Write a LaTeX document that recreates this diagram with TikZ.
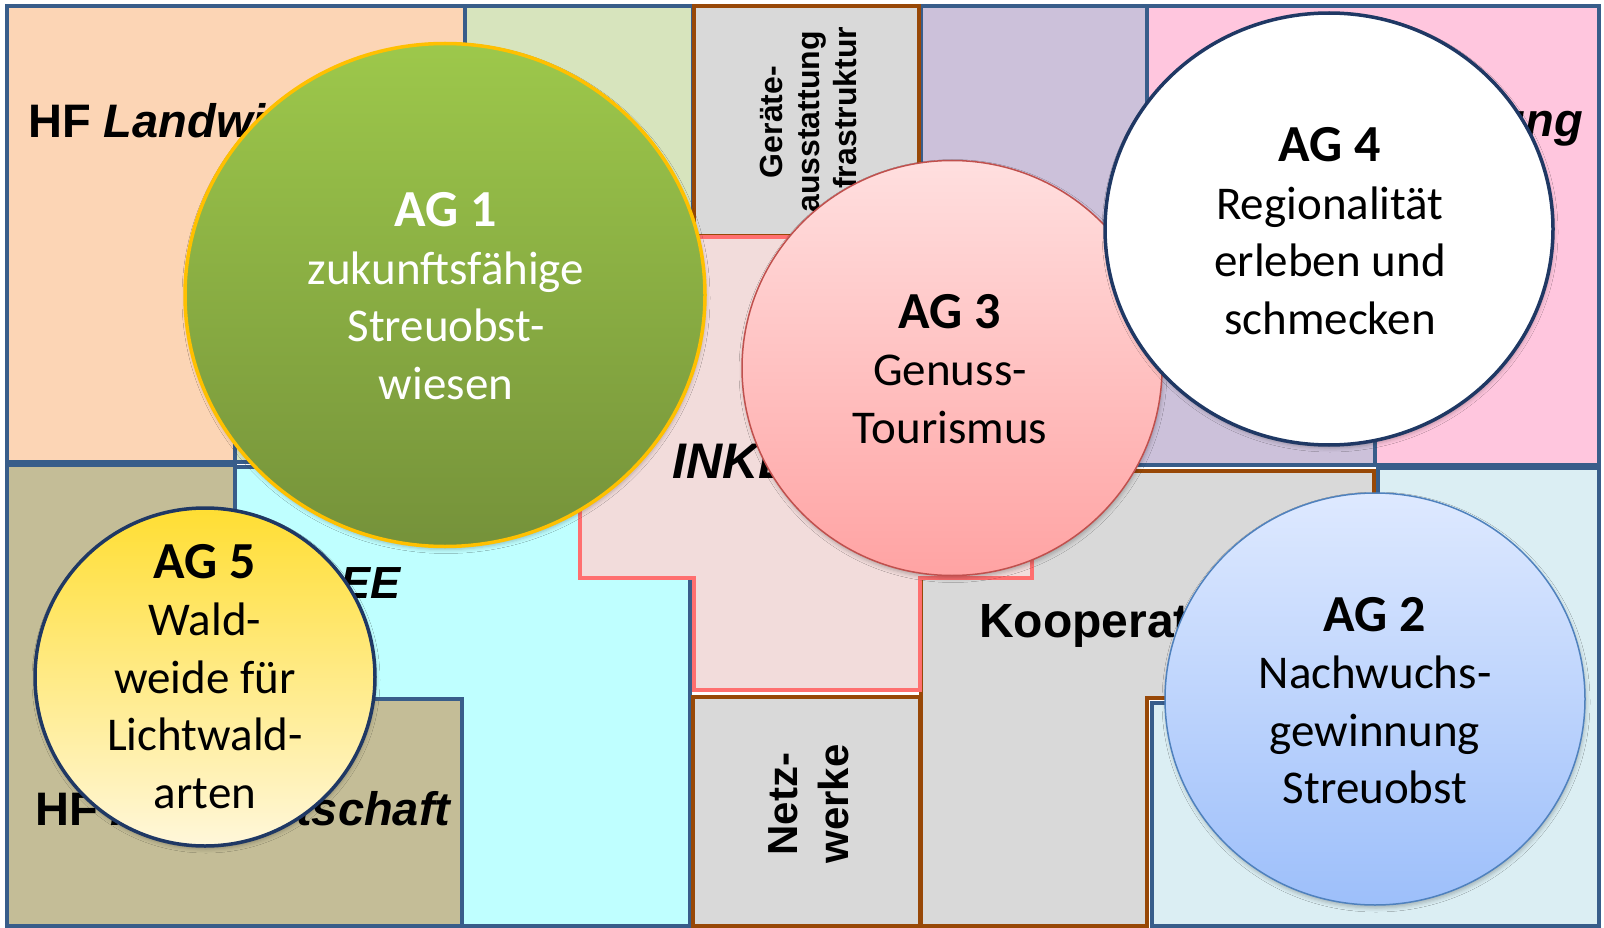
\documentclass[tikz,border=0pt]{standalone}
\usepackage{fontspec}
\setmainfont{Carlito}
\newfontfamily\arialfont{Liberation Sans}
\usetikzlibrary{shapes.geometric,shadows.blur}

% cell and border colours
\definecolor{edgeblue}{HTML}{385D8A}
\definecolor{edgebrown}{HTML}{984807}
\definecolor{edgeinke}{HTML}{FF6F6F}
\definecolor{cpeach}{HTML}{FCD5B5}
\definecolor{cleaf}{HTML}{D7E4BD}
\definecolor{cgrey}{HTML}{D9D9D9}
\definecolor{cviolet}{HTML}{CCC1DA}
\definecolor{crose}{HTML}{FFC6DE}
\definecolor{cice}{HTML}{DBEEF3}
\definecolor{caqua}{HTML}{BFFFFF}
\definecolor{ctan}{HTML}{C4BD97}
\definecolor{cinke}{HTML}{F2DCDB}
% circle colours
\definecolor{agonetop}{HTML}{9DC84B}
\definecolor{agonebot}{HTML}{75923A}
\definecolor{agoneedge}{HTML}{FFC000}
\definecolor{agthreetop}{HTML}{FFDFDF}
\definecolor{agthreebot}{HTML}{FFA3A3}
\definecolor{agthreeedge}{HTML}{C0504D}
\definecolor{agnavy}{HTML}{1F3864}
\definecolor{agtwotop}{HTML}{DEE9FF}
\definecolor{agtwobot}{HTML}{9DBFFA}
\definecolor{agtwoedge}{HTML}{4F81BD}
\definecolor{agfivetop}{HTML}{FFDE33}
\definecolor{agfivebot}{HTML}{FFF7DA}

\newcommand\agtitle[1]{{\fontsize{52pt}{57.5pt}\selectfont\bfseries #1}}

\begin{document}
\begin{tikzpicture}[x=1pt,y=-1pt,
  edge/.style={line width=4.5pt, line join=miter},
  blueedge/.style={edge, draw=edgeblue},
  brownedge/.style={edge, draw=edgebrown},
  inkeedge/.style={edge, draw=edgeinke},
  hflabel/.style={inner sep=0pt, font=\arialfont\bfseries\fontsize{47pt}{56pt}\selectfont},
  sidelabel/.style={inner sep=0pt, anchor=base, rotate=90},
  agdisk/.style={ellipse, inner sep=0pt,
    blur shadow={shadow xshift=1pt, shadow yshift=-3pt, shadow blur radius=4pt, shadow opacity=25}},
  agtext/.style={inner sep=0pt, anchor=base, font=\fontsize{47pt}{57.5pt}\selectfont},
]
\useasboundingbox (0,0) rectangle (1604,928);
\fill[white] (0,0) rectangle (1604,928);

% ---- fields of action (Handlungsfelder) ----
\filldraw[blueedge, fill=cpeach]
  (7,6) -- (465,6) -- (465,300) -- (235,300) -- (235,462) -- (7,462) -- cycle;
\filldraw[blueedge, fill=cleaf]
  (465,6) -- (693,6) -- (693,462) -- (235,462) -- (235,300) -- (465,300) -- cycle;
\filldraw[blueedge, fill=ctan]
  (7,465) -- (235,465) -- (235,699) -- (462,699) -- (462,926) -- (7,926) -- cycle;
\filldraw[blueedge, fill=caqua]
  (235,467) -- (690,467) -- (690,926) -- (462,926) -- (462,699) -- (235,699) -- cycle;
\filldraw[blueedge, fill=cviolet]
  (921,6) -- (1147,6) -- (1147,300) -- (1375,300) -- (1375,465) -- (921,465) -- cycle;
\filldraw[blueedge, fill=crose]
  (1147,6) -- (1599,6) -- (1599,465) -- (1375,465) -- (1375,300) -- (1147,300) -- cycle;
\filldraw[blueedge, fill=cice]
  (1378,468) -- (1599,468) -- (1599,926) -- (1152,926) -- (1152,703) -- (1378,703) -- cycle;

% ---- cross-cutting topics ----
\filldraw[brownedge, fill=cgrey] (694,6) rectangle (919,236);
\filldraw[brownedge, fill=cgrey] (693,697) rectangle (920,926);
\filldraw[brownedge, fill=cgrey]
  (921,471) -- (1374,471) -- (1374,698) -- (1147,698) -- (1147,926) -- (921,926) -- cycle;
\filldraw[inkeedge, fill=cinke]
  (694,237) -- (920,237) -- (920,300) -- (1032,300) -- (1032,578) -- (920,578)
  -- (920,690) -- (694,690) -- (694,578) -- (580,578) -- (580,300) -- (694,300) -- cycle;

% ---- field labels ----
\node[hflabel, anchor=base west] (hfland) at (28,138) {HF \textit{Landwirtschaft}};
\node[hflabel, anchor=base east] (hfverm) at (1583,137) {HF \textit{Vermarktung}};
\node[hflabel, anchor=base west] (hfforst) at (35,825) {HF \textit{Forstwirtschaft}};
\node[hflabel, anchor=base east, font=\arialfont\bfseries\fontsize{45pt}{54pt}\selectfont]
  (hfee) at (402,598) {HF \textit{EE}};
\node[hflabel, anchor=base west, font=\arialfont\bfseries\itshape\fontsize{50pt}{60pt}\selectfont]
  (inke) at (672,478) {INKE};
\node[hflabel, anchor=base west, font=\arialfont\bfseries\fontsize{48pt}{56pt}\selectfont]
  (koop) at (979,637) {Kooperation};
\node[sidelabel, font=\arialfont\bfseries\fontsize{32pt}{37pt}\selectfont] (geraete) at (782,122)
  {\begin{tabular}[t]{@{}c@{}}Geräte-\\ausstattung\\Infrastruktur\end{tabular}};
\node[sidelabel, font=\arialfont\bfseries\fontsize{42pt}{51pt}\selectfont] (netz) at (797,804)
  {\begin{tabular}[t]{@{}c@{}}Netz-\\werke\end{tabular}};

% ---- working groups ----
\node[agdisk, minimum width=520pt, minimum height=503pt, draw=agoneedge, line width=3.5pt,
  top color=agonetop, bottom color=agonebot] (ag1) at (445,295) {};
\node[agtext, text=white] (ag1t) at (446,227)
  {\begin{tabular}[t]{@{}c@{}}\agtitle{AG 1}\\zukunftsfähige\\Streuobst-\\wiesen\end{tabular}};

\node[agdisk, minimum width=420pt, minimum height=415pt, draw=agthreeedge, line width=1.5pt,
  top color=agthreetop, bottom color=agthreebot] (ag3) at (952,368) {};
\node[agtext] (ag3t) at (950,328)
  {\begin{tabular}[t]{@{}c@{}}\agtitle{AG 3}\\Genuss-\\Tourismus\end{tabular}};

\node[agdisk, minimum width=448pt, minimum height=432pt, draw=agnavy, line width=3.5pt,
  fill=white] (ag4) at (1329,229) {};
\node[agtext] (ag4t) at (1330,162)
  {\begin{tabular}[t]{@{}c@{}}\agtitle{AG 4}\\Regionalität\\erleben und\\schmecken\end{tabular}};

\node[agdisk, minimum width=420pt, minimum height=412pt, draw=agtwoedge, line width=1.5pt,
  top color=agtwotop, bottom color=agtwobot] (ag2) at (1375,699) {};
\node[agtext] (ag2t) at (1375,631)
  {\begin{tabular}[t]{@{}c@{}}\agtitle{AG 2}\\Nachwuchs-\\gewinnung\\Streuobst\end{tabular}};

\node[agdisk, minimum width=340pt, minimum height=338pt, draw=agnavy, line width=3.5pt,
  top color=agfivetop, bottom color=agfivebot] (ag5) at (205,677) {};
\node[agtext] (ag5t) at (205,578)
  {\begin{tabular}[t]{@{}c@{}}\agtitle{AG 5}\\Wald-\\weide für\\Lichtwald-\\arten\end{tabular}};
\end{tikzpicture}
\end{document}
